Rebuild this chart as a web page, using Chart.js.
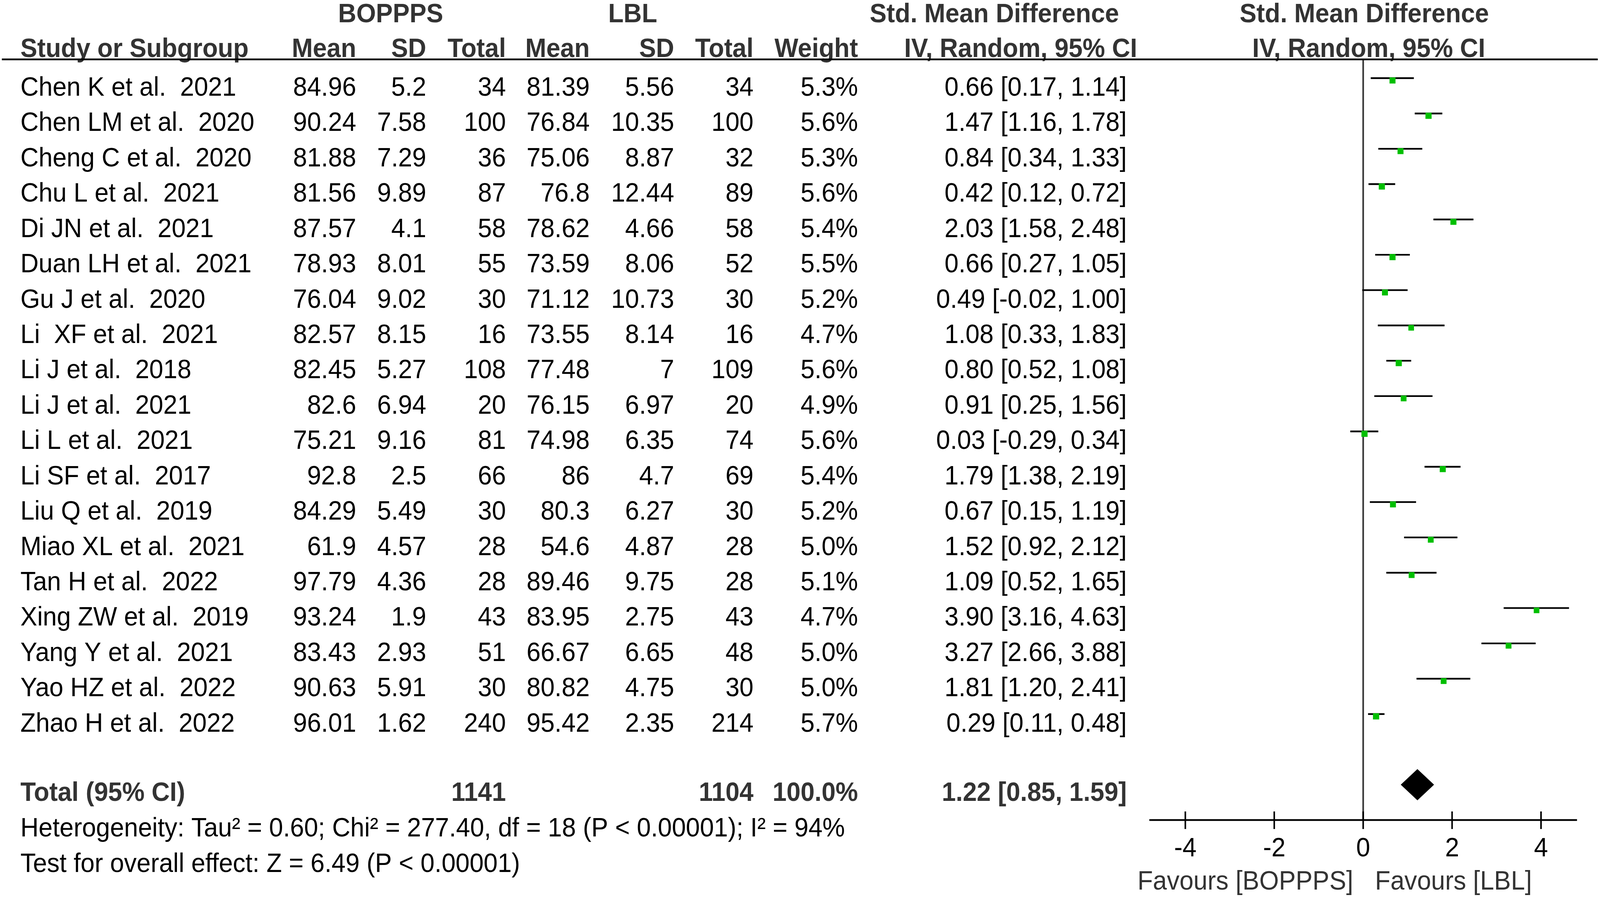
<!DOCTYPE html>
<html>
<head>
<meta charset="utf-8">
<script src="https://cdn.jsdelivr.net/npm/chart.js@4.4.1/dist/chart.umd.min.js"></script>
<style>
  html, body { margin: 0; padding: 0; background: #fff; overflow: hidden; }
  canvas { display: block; }
</style>
</head>
<body>
<canvas id="forest"></canvas>
<script>
// Study rows (top to bottom)
const studies = [
  'Chen K et al.  2021', 'Chen LM et al.  2020', 'Cheng C et al.  2020', 'Chu L et al.  2021',
  'Di JN et al.  2021', 'Duan LH et al.  2021', 'Gu J et al.  2020', 'Li  XF et al.  2021',
  'Li J et al.  2018', 'Li J et al.  2021', 'Li L et al.  2021', 'Li SF et al.  2017',
  'Liu Q et al.  2019', 'Miao XL et al.  2021', 'Tan H et al.  2022', 'Xing ZW et al.  2019',
  'Yang Y et al.  2021', 'Yao HZ et al.  2022', 'Zhao H et al.  2022'
];
const bopMean = [84.96, 90.24, 81.88, 81.56, 87.57, 78.93, 76.04, 82.57, 82.45, 82.6, 75.21, 92.8, 84.29, 61.9, 97.79, 93.24, 83.43, 90.63, 96.01];
const bopSD = [5.2, 7.58, 7.29, 9.89, 4.1, 8.01, 9.02, 8.15, 5.27, 6.94, 9.16, 2.5, 5.49, 4.57, 4.36, 1.9, 2.93, 5.91, 1.62];
const bopN = [34, 100, 36, 87, 58, 55, 30, 16, 108, 20, 81, 66, 30, 28, 28, 43, 51, 30, 240];
const lblMean = [81.39, 76.84, 75.06, 76.8, 78.62, 73.59, 71.12, 73.55, 77.48, 76.15, 74.98, 86, 80.3, 54.6, 89.46, 83.95, 66.67, 80.82, 95.42];
const lblSD = [5.56, 10.35, 8.87, 12.44, 4.66, 8.06, 10.73, 8.14, 7, 6.97, 6.35, 4.7, 6.27, 4.87, 9.75, 2.75, 6.65, 4.75, 2.35];
const lblN = [34, 100, 32, 89, 58, 52, 30, 16, 109, 20, 74, 69, 30, 28, 28, 43, 48, 30, 214];
const weights = [5.3, 5.6, 5.3, 5.6, 5.4, 5.5, 5.2, 4.7, 5.6, 4.9, 5.6, 5.4, 5.2, 5.0, 5.1, 4.7, 5.0, 5.0, 5.7];
const smd = [0.66, 1.47, 0.84, 0.42, 2.03, 0.66, 0.49, 1.08, 0.80, 0.91, 0.03, 1.79, 0.67, 1.52, 1.09, 3.90, 3.27, 1.81, 0.29];
const ciLow = [0.17, 1.16, 0.34, 0.12, 1.58, 0.27, -0.02, 0.33, 0.52, 0.25, -0.29, 1.38, 0.15, 0.92, 0.52, 3.16, 2.66, 1.20, 0.11];
const ciHigh = [1.14, 1.78, 1.33, 0.72, 2.48, 1.05, 1.00, 1.83, 1.08, 1.56, 0.34, 2.19, 1.19, 2.12, 1.65, 4.63, 3.88, 2.41, 0.48];

// Pooled result
const totalN = [1141, 1104];
const totalWeight = 100.0;
const totalSmd = [1.22, 0.85, 1.59]; // estimate, low, high
const totalRow = 20;

const xTicks = [-4, -2, 0, 2, 4];
const heterogeneity = 'Heterogeneity: Tau\u00B2 = 0.60; Chi\u00B2 = 277.40, df = 18 (P < 0.00001); I\u00B2 = 94%';
const overallTest = 'Test for overall effect: Z = 6.49 (P < 0.00001)';
const favours = ['Favours [BOPPPS]', 'Favours [LBL]'];

// Layout is measured on a 4317 x 2296 page and stretched to fill the window
const REF_W = 4317, REF_H = 2296;
const SX = window.innerWidth / REF_W;
const SY = window.innerHeight / REF_H;
const S = Math.min(SX, SY);
const px = v => v * S;

const canvas = document.getElementById('forest');
canvas.style.width = window.innerWidth + 'px';
canvas.style.height = window.innerHeight + 'px';

const FONT = '"Liberation Sans", Arial, sans-serif';
const FS = 68;
const X_MIN = -4.81, X_MAX = 4.81;
const Y_MIN = -0.52, Y_MAX = 21.0;
const GREEN = '#00bf00';

const fmt2 = v => v.toFixed(2);
const ciText = (e, l, h) => `${fmt2(e)} [${fmt2(l)}, ${fmt2(h)}]`;

// CI whiskers as one broken line
const ciLines = [];
studies.forEach((s, i) => {
  ciLines.push({ x: ciLow[i], y: i }, { x: ciHigh[i], y: i }, { x: null, y: null });
});
const squares = studies.map((s, i) => ({ x: smd[i], y: i + 0.066 }));
const diamondH = 0.437;
const diamond = [
  { x: totalSmd[1], y: totalRow },
  { x: totalSmd[0], y: totalRow - diamondH },
  { x: totalSmd[2], y: totalRow },
  { x: totalSmd[0], y: totalRow + diamondH },
  { x: totalSmd[1], y: totalRow }
];

const tablePlugin = {
  id: 'forestTable',
  afterDraw(chart) {
    const ctx = chart.ctx;
    const xs = chart.scales.x;
    const ys = chart.scales.y;
    const area = chart.chartArea;
    const rowY = v => ys.getPixelForValue(v) / SY;
    const colX = v => xs.getPixelForValue(v) / SX;
    ctx.save();
    ctx.scale(SX, SY);

    function txt(t, x, y, align, bold, color) {
      ctx.font = (bold ? 'bold ' : '') + FS + 'px ' + FONT;
      ctx.textAlign = align;
      ctx.textBaseline = 'alphabetic';
      ctx.fillStyle = color;
      ctx.fillText(t, x, y);
    }

    // headers
    const hc = '#333333';
    txt('BOPPPS', 1054, 57, 'center', true, hc);
    txt('LBL', 1707, 57, 'center', true, hc);
    txt('Std. Mean Difference', 2683, 57, 'center', true, hc);
    txt('Std. Mean Difference', 3681, 57, 'center', true, hc);
    txt('Study or Subgroup', 55, 146, 'left', true, hc);
    txt('Mean', 961, 146, 'right', true, hc);
    txt('SD', 1150, 146, 'right', true, hc);
    txt('Total', 1365, 146, 'right', true, hc);
    txt('Mean', 1591, 146, 'right', true, hc);
    txt('SD', 1819, 146, 'right', true, hc);
    txt('Total', 2033, 146, 'right', true, hc);
    txt('Weight', 2315, 146, 'right', true, hc);
    txt('IV, Random, 95% CI', 2754, 146, 'center', true, hc);
    txt('IV, Random, 95% CI', 3693, 146, 'center', true, hc);

    // header rule
    ctx.strokeStyle = '#000';
    ctx.lineWidth = 4.5;
    ctx.beginPath();
    ctx.moveTo(5, 152);
    ctx.lineTo(4311, 152);
    ctx.stroke();

    // study rows
    studies.forEach((s, i) => {
      const y = rowY(i) + 45;
      txt(s, 55, y, 'left', false, '#000');
      txt(String(bopMean[i]), 961, y, 'right', false, '#000');
      txt(String(bopSD[i]), 1150, y, 'right', false, '#000');
      txt(String(bopN[i]), 1365, y, 'right', false, '#000');
      txt(String(lblMean[i]), 1591, y, 'right', false, '#000');
      txt(String(lblSD[i]), 1819, y, 'right', false, '#000');
      txt(String(lblN[i]), 2033, y, 'right', false, '#000');
      txt(weights[i].toFixed(1) + '%', 2315, y, 'right', false, '#000');
      txt(ciText(smd[i], ciLow[i], ciHigh[i]), 3040, y, 'right', false, '#000');
    });

    // total row
    const ty = rowY(totalRow) + 41;
    txt('Total (95% CI)', 55, ty, 'left', true, hc);
    txt(String(totalN[0]), 1365, ty, 'right', true, hc);
    txt(String(totalN[1]), 2033, ty, 'right', true, hc);
    txt(totalWeight.toFixed(1) + '%', 2315, ty, 'right', true, hc);
    txt(ciText(totalSmd[0], totalSmd[1], totalSmd[2]), 3040, ty, 'right', true, hc);

    txt(heterogeneity, 55, 2141, 'left', false, '#000');
    txt(overallTest, 55, 2232, 'left', false, '#000');

    // x axis
    const ay = area.bottom / SY;
    ctx.strokeStyle = '#000';
    ctx.lineWidth = 4.7;
    ctx.beginPath();
    ctx.moveTo(colX(X_MIN), ay);
    ctx.lineTo(colX(X_MAX), ay);
    ctx.stroke();
    ctx.lineWidth = 4.2;
    xTicks.forEach(v => {
      const tx = colX(v);
      ctx.beginPath();
      ctx.moveTo(tx, ay - 22);
      ctx.lineTo(tx, ay + 23);
      ctx.stroke();
      txt(String(v), tx, 2192, 'center', false, '#000');
    });
    const zx = colX(0);
    txt(favours[0], zx - 27, 2277, 'right', false, hc);
    txt(favours[1], zx + 32, 2277, 'left', false, hc);

    ctx.restore();
  }
};

new Chart(canvas, {
  type: 'scatter',
  data: {
    datasets: [
      {
        label: 'SMD',
        data: squares,
        pointStyle: 'rect',
        pointRadius: ctx => px(11.4 * Math.sqrt(weights[ctx.dataIndex] / 5.3)),
        pointBackgroundColor: GREEN,
        pointBorderWidth: 0,
        borderWidth: 0
      },
      {
        label: 'Pooled',
        type: 'line',
        data: diamond,
        borderColor: '#000',
        backgroundColor: '#000',
        borderWidth: px(1),
        pointRadius: 0,
        tension: 0,
        fill: 'shape'
      },
      {
        label: '95% CI',
        type: 'line',
        data: ciLines,
        borderColor: '#000',
        borderWidth: px(4.6),
        pointRadius: 0,
        spanGaps: false,
        tension: 0,
        fill: false
      },
      {
        label: 'No effect',
        type: 'line',
        data: [{ x: 0, y: Y_MIN }, { x: 0, y: Y_MAX }],
        borderColor: '#3a3a3a',
        borderWidth: px(4.5),
        pointRadius: 0,
        fill: false
      }
    ]
  },
  options: {
    responsive: false,
    maintainAspectRatio: false,
    animation: false,
    layout: { padding: { left: 3101 * SX, right: 62 * SX, top: 153 * SY, bottom: 197 * SY } },
    scales: {
      x: { type: 'linear', min: X_MIN, max: X_MAX, display: false },
      y: { type: 'linear', min: Y_MIN, max: Y_MAX, reverse: true, display: false }
    },
    plugins: {
      legend: { display: false },
      tooltip: { enabled: false }
    }
  },
  plugins: [tablePlugin]
});
</script>
</body>
</html>
